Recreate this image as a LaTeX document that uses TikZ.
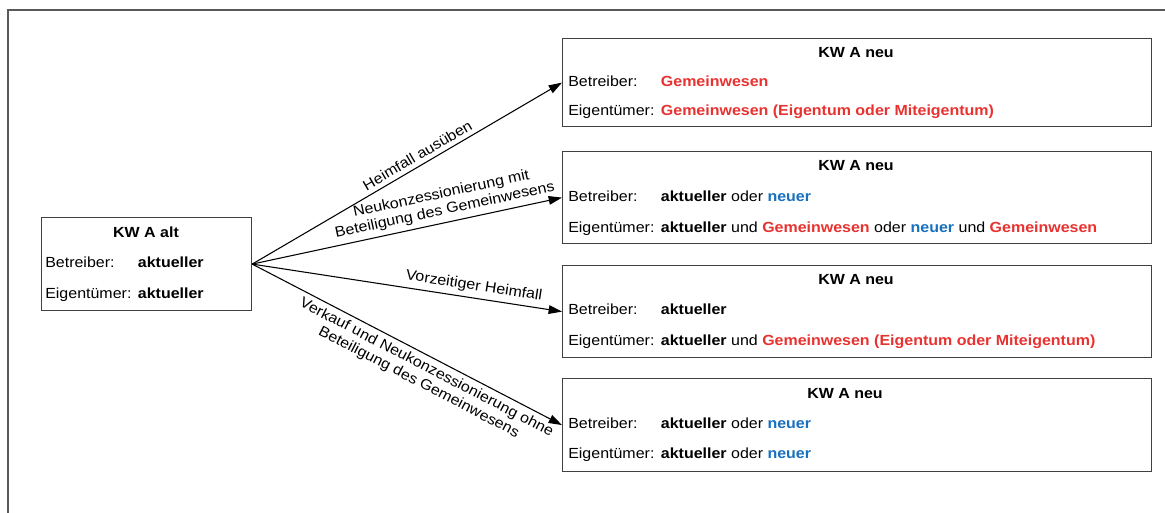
\documentclass[tikz,border=0pt]{standalone}
\usepackage{fontspec}
\setmainfont{Liberation Sans}[FakeStretch=1.09]
\usepackage{xcolor}
\usetikzlibrary{arrows.meta, positioning}

\definecolor{gwrot}{RGB}{232,50,48}
\definecolor{neublau}{RGB}{24,112,190}
\newcommand{\gw}[1]{\textcolor{gwrot}{\textbf{#1}}}
\newcommand{\nb}[1]{\textcolor{neublau}{\textbf{#1}}}
\newcommand{\zeile}[2]{\makebox[69.5pt][l]{#1}#2}

\begin{document}
\begin{tikzpicture}[x=0.75pt, y=-0.75pt, font=\fontsize{11}{12.5}\selectfont]
    \tikzstyle{box} = [rectangle, draw=black!75, line width=0.9pt, inner sep=0pt,
                       anchor=north west]
    \tikzstyle{neubox} = [box, minimum width=441.75pt, minimum height=69pt]
    \tikzstyle{zeile} = [anchor=base west, inner sep=0pt]
    \tikzstyle{titel} = [anchor=base, inner sep=0pt, font=\fontsize{11}{12.5}\selectfont\bfseries]
    \tikzstyle{arr} = [-{Triangle[length=10pt, width=6.5pt]}, line width=0.8pt]

    \useasboundingbox (0,0) rectangle (1165,513);
    \draw[black!65, line width=1.3pt] (8,513) -- (8,10) -- (1165,10);

    % alter Zustand
    \node (alt) [box, minimum width=157.5pt, minimum height=69.75pt] at (41,217) {};
    \node (alttitel) [titel] at (146,238) {KW A alt};
    \node (altbetr)  [zeile] at (45,268) {\zeile{Betreiber:}{\textbf{aktueller}}};
    \node (alteig)   [zeile] at (45,299) {\zeile{Eigentümer:}{\textbf{aktueller}}};

    % neue Varianten
    \node (neu1) [neubox, minimum height=66pt] at (562,38) {};
    \node (neu1titel) [titel] at (856,58) {KW A neu};
    \node (neu1betr)  [zeile] at (568,87) {\zeile{Betreiber:}{\gw{Gemeinwesen}}};
    \node (neu1eig)   [zeile] at (568,116) {\zeile{Eigentümer:}{\gw{Gemeinwesen (Eigentum oder Miteigentum)}}};

    \node (neu2) [neubox] at (562,151) {};
    \node (neu2titel) [titel] at (856,171) {KW A neu};
    \node (neu2betr)  [zeile] at (568,202) {\zeile{Betreiber:}{\textbf{aktueller} oder \nb{neuer}}};
    \node (neu2eig)   [zeile] at (568,233) {\zeile{Eigentümer:}{\textbf{aktueller} und \gw{Gemeinwesen} oder \nb{neuer} und \gw{Gemeinwesen}}};

    \node (neu3) [neubox] at (562,265) {};
    \node (neu3titel) [titel] at (856,285) {KW A neu};
    \node (neu3betr)  [zeile] at (568,315) {\zeile{Betreiber:}{\textbf{aktueller}}};
    \node (neu3eig)   [zeile] at (568,346) {\zeile{Eigentümer:}{\textbf{aktueller} und \gw{Gemeinwesen (Eigentum oder Miteigentum)}}};

    \node (neu4) [neubox, minimum height=69.75pt] at (562,378) {};
    \node (neu4titel) [titel] at (845,399) {KW A neu};
    \node (neu4betr)  [zeile] at (568,429) {\zeile{Betreiber:}{\textbf{aktueller} oder \nb{neuer}}};
    \node (neu4eig)   [zeile] at (568,459) {\zeile{Eigentümer:}{\textbf{aktueller} oder \nb{neuer}}};

    % Übergänge
    \draw[arr] (alt.east) -- node[sloped, above, pos=0.55] {Heimfall ausüben} (neu1.west);
    \draw[arr] (alt.east) -- node[sloped, above, pos=0.63, align=center]
        {Neukonzessionierung mit\\Beteiligung des Gemeinwesens} (neu2.west);
    \draw[arr] (alt.east) -- node[sloped, above, pos=0.71] {Vorzeitiger Heimfall} (neu3.west);
    \draw[arr] (alt.east) -- node[sloped, below, pos=0.58, align=center]
        {Verkauf und Neukonzessionierung ohne\\Beteiligung des Gemeinwesens} (neu4.west);
\end{tikzpicture}
\end{document}
